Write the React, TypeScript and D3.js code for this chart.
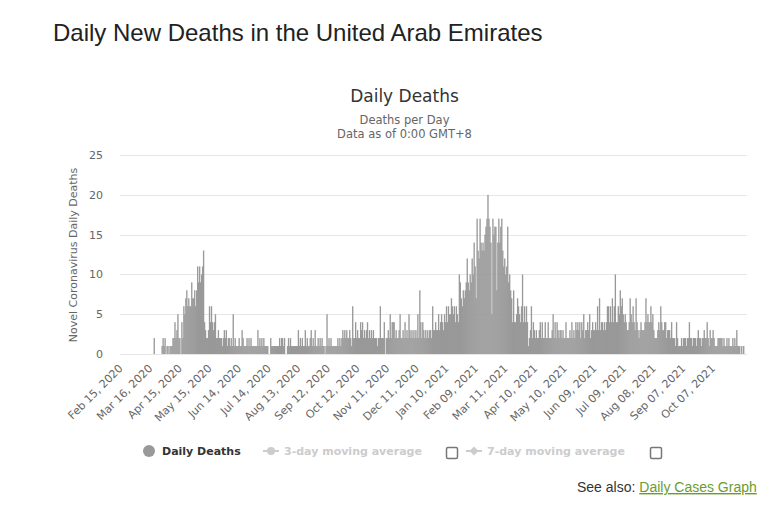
import React from "react";
import * as d3 from "d3";

// Daily deaths, one value per day starting Feb 15, 2020
const deathsFeb2020toJun2020 = [
  0,0,0,0,0,0,0,0,0,0,0,0,0,0,0,0,0,0,0,0,0,0,0,0,0,0,0,0,0,0,0,0,0,0,
  2,
  0,0,0,0,0,0,0,
  1,2,1,2,0,1,1,0,1,1,1,
  2,2,4,2,3,5,2,2,0,4,
  2,6,5,7,8,6,7,6,
  6,9,7,7,8,6,8,11,9,11,9,10,11,13,
  4,3,2,2,3,6,4,6,4,
  3,4,5,2,2,3,2,
  2,2,1,2,3,2,3,1,2,2,1,2,
  1,5,1,2,1,1,1,2,1,1,3,
];
const deathsJun2020toOct2020 = [
  2,1,1,1,2,1,2,1,2,1,
  1,1,1,1,1,3,1,2,1,2,
  1,2,1,1,1,1,0,0,2,1,
  1,1,1,1,1,1,1,2,1,2,
  2,1,2,0,0,1,2,1,2,1,
  1,1,1,1,1,1,3,1,2,1,
  2,1,1,3,1,2,1,1,2,3,
  1,2,1,3,1,1,2,1,2,1,
  2,1,1,0,1,5,1,2,1,2,
  1,1,1,1,1,1,2,1,2,1,
  2,3,2,3,2,3,2,2,3,2,
  1,6,2,2,4,2,3,2,2,4,
  3,4,2,3,2,3,4,2,3,2,
];
const deathsOct2020toMar2021 = [
  3,2,3,2,2,2,1,2,2,6,
  2,2,2,4,0,2,2,3,2,5,
  2,4,4,4,2,3,2,2,3,5,
  2,2,3,2,4,2,3,2,5,3,
  2,3,2,3,2,3,2,5,2,8,
  4,2,4,3,2,3,2,3,2,3,
  3,2,6,3,3,4,3,3,5,3,
  4,5,4,3,5,4,6,4,6,5,
  5,7,6,5,6,4,6,5,4,10,
  9,7,6,8,7,8,9,12,9,8,
  10,9,12,10,14,11,7,17,13,12,
  17,14,13,14,13,15,16,17,20,17,
  16,14,5,17,15,16,16,8,14,17,14,
];
const deathsMar2021toJul2021 = [
  16,17,13,11,12,10,11,16,9,10,
  8,7,4,8,4,4,5,7,6,5,
  4,6,10,4,6,4,6,4,1,2,
  3,6,2,4,3,2,3,2,2,3,
  4,2,4,2,2,4,2,2,4,2,
  2,2,3,5,2,4,2,4,3,2,
  3,3,2,3,2,2,4,2,2,2,
  3,2,4,2,3,2,4,3,4,3,
  4,2,4,3,5,2,3,3,4,3,
  5,2,3,4,3,
  3,4,3,6,3,7,3,4,4,3,
  4,3,4,6,6,4,6,4,7,4,
  6,10,4,4,6,5,8,6,7,5,
  4,5,4,
];
const deathsJul2021toNov2021 = [
  3,3,4,7,5,4,6,4,3,7,
  4,3,2,3,4,3,3,3,4,7,
  4,5,4,4,6,4,5,3,2,2,
  2,3,4,3,6,4,3,3,4,4,
  2,3,3,3,2,4,2,2,2,1,
  4,2,1,1,1,2,1,2,2,2,
  1,2,2,4,2,2,1,2,2,2,
  1,2,3,2,2,1,2,2,3,2,
  2,4,2,1,3,2,2,3,2,1,
  1,1,2,2,2,2,2,1,2,1,
  1,2,1,2,1,1,1,2,1,2,
  1,3,1,1,1,0,1,0,1,0,
  0,0,
];

const dailyDeaths = [
  ...deathsFeb2020toJun2020,
  ...deathsJun2020toOct2020,
  ...deathsOct2020toMar2021,
  ...deathsMar2021toJul2021,
  ...deathsJul2021toNov2021,
];

const tickLabels = [
  "Feb 15, 2020", "Mar 16, 2020", "Apr 15, 2020", "May 15, 2020", "Jun 14, 2020",
  "Jul 14, 2020", "Aug 13, 2020", "Sep 12, 2020", "Oct 12, 2020", "Nov 11, 2020",
  "Dec 11, 2020", "Jan 10, 2021", "Feb 09, 2021", "Mar 11, 2021", "Apr 10, 2021",
  "May 10, 2021", "Jun 09, 2021", "Jul 09, 2021", "Aug 08, 2021", "Sep 07, 2021",
  "Oct 07, 2021",
];
const tickEvery = 30;
const yTicks = [0, 5, 10, 15, 20, 25];

const W = 781;
const H = 513;
const plot = { left: 120, right: 747, top: 155, bottom: 354 };
const hcFont = "'DejaVu Sans', 'Lucida Grande', Arial, sans-serif";
const arial = "'Liberation Sans', Arial, Helvetica, sans-serif";

export default function App() {
  const idx = dailyDeaths.map((_, i) => i);
  const x = d3.scaleBand<number>().domain(idx).range([plot.left, plot.right]).padding(0);
  const y = d3.scaleLinear().domain([0, 25]).range([plot.bottom, plot.top]);
  const bw = x.bandwidth();

  return (
    <svg
      width={W}
      height={H}
      style={{ position: "absolute", left: 0, top: 0, background: "#fff" }}
    >
      <text x={53} y={41} fontFamily={arial} fontSize={24} fill="#222">
        Daily New Deaths in the United Arab Emirates
      </text>

      <text x={404.5} y={102} textAnchor="middle" fontFamily={hcFont} fontSize={17} fill="#333">
        Daily Deaths
      </text>
      <text x={404.5} y={124} textAnchor="middle" fontFamily={hcFont} fontSize={11.5} fill="#666">
        Deaths per Day
      </text>
      <text x={404.5} y={138} textAnchor="middle" fontFamily={hcFont} fontSize={11.5} fill="#666">
        Data as of 0:00 GMT+8
      </text>

      {yTicks.map((t) => (
        <g key={t}>
          <line
            x1={plot.left}
            x2={plot.right}
            y1={Math.round(y(t)) + 0.5}
            y2={Math.round(y(t)) + 0.5}
            stroke="#e6e6e6"
            strokeWidth={1}
          />
          <text
            x={103}
            y={y(t) + 4}
            textAnchor="end"
            fontFamily={hcFont}
            fontSize={11}
            fill="#666"
          >
            {t}
          </text>
        </g>
      ))}

      <text
        transform={`translate(77,255) rotate(-90)`}
        textAnchor="middle"
        fontFamily={hcFont}
        fontSize={11}
        fill="#666"
      >
        Novel Coronavirus Daily Deaths
      </text>

      <g>
        {dailyDeaths.map((v, i) =>
          v > 0 ? (
            <rect
              key={i}
              x={x(i)!}
              y={y(v)}
              width={bw + 0.35}
              height={y(0) - y(v)}
              fill="#999999"
            />
          ) : null
        )}
      </g>

      {tickLabels.map((lab, k) => {
        const i = k * tickEvery;
        const cx = x(i)! + bw / 2 + 3;
        const cy = 369;
        return (
          <text
            key={lab}
            transform={`translate(${cx},${cy}) rotate(-45)`}
            textAnchor="end"
            fontFamily={hcFont}
            fontSize={11}
            fill="#666"
          >
            {lab}
          </text>
        );
      })}

      {/* Legend */}
      <g fontFamily={hcFont} fontSize={11} fontWeight="bold">
        <circle cx={149} cy={451} r={6} fill="#999999" />
        <text x={162} y={455} fill="#333">Daily Deaths</text>

        <line x1={263} x2={279} y1={451} y2={451} stroke="#cccccc" strokeWidth={2} />
        <circle cx={271} cy={451} r={4} fill="#cccccc" />
        <text x={284} y={455} fill="#cccccc">3-day moving average</text>
        <rect x={446.5} y={447.5} width={11} height={11} rx={1.5} fill="#fff" stroke="#777" strokeWidth={1.5} />

        <line x1={466} x2={482} y1={451} y2={451} stroke="#cccccc" strokeWidth={2} />
        <path d="M474,446.5 L478.5,451 L474,455.5 L469.5,451 Z" fill="#cccccc" />
        <text x={487} y={455} fill="#cccccc">7-day moving average</text>
        <rect x={650.5} y={447.5} width={11} height={11} rx={1.5} fill="#fff" stroke="#777" strokeWidth={1.5} />
      </g>

      <text x={577} y={492} fontFamily={arial} fontSize={14} fill="#333">
        See also:{" "}
        <tspan fill="#6b9c2e" textDecoration="underline">Daily Cases Graph</tspan>
      </text>
    </svg>
  );
}
